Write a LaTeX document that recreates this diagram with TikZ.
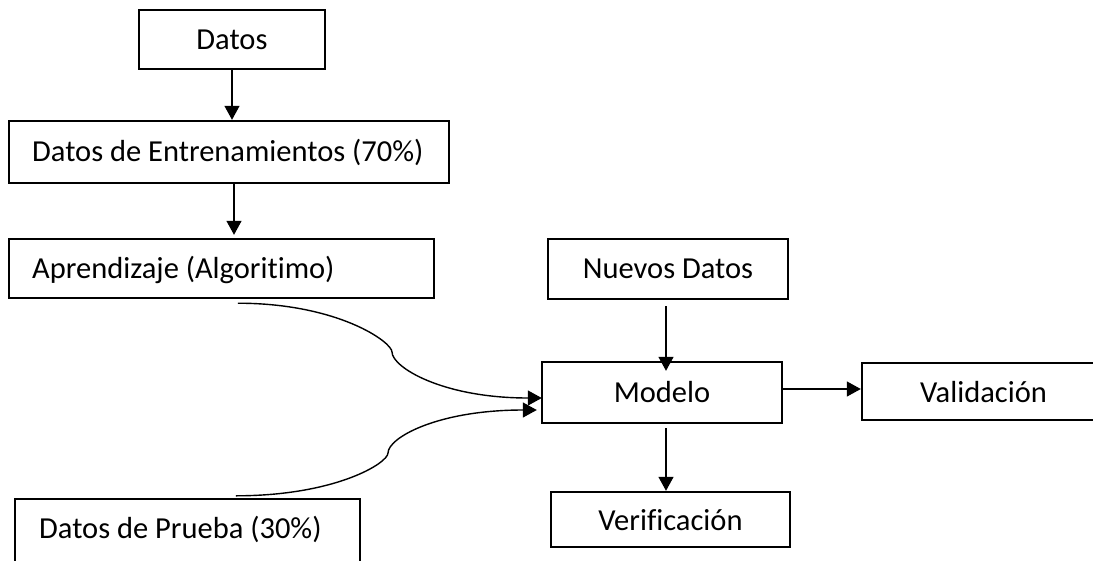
\documentclass[tikz,border=0pt]{standalone}
\usepackage{fontspec}
\setmainfont{Carlito}[Ligatures=NoCommon]
\usetikzlibrary{arrows.meta}

\begin{document}
\begin{tikzpicture}[x=1pt,y=-1pt,
  lbl/.style={inner sep=0pt, font=\fontsize{30.5}{34}\selectfont},
  box/.style={draw=black, line width=2.4pt, rectangle, inner sep=0pt,
    text height=19pt, text depth=0pt, font=\fontsize{30.5}{34}\selectfont},
  arr/.style={line width=1.4pt, -{Triangle[length=14pt,width=15pt]}}]
  \useasboundingbox (0,0) rectangle (1093,560);
  \clip (0,0) rectangle (1093,560);

  % left column
  \node[box, minimum width=186pt, minimum height=59pt] (datos) at (232,39.5) {Datos};
  \node[box, minimum width=440pt, minimum height=62pt] (entr) at (229,152) {};
  \node[lbl, anchor=base west] (entrT) at (32,161) {Datos de Entrenamientos (70\%)};
  \node[box, minimum width=425pt, minimum height=59pt] (apr) at (221.5,268.5) {};
  \node[lbl, anchor=base west] (aprT) at (32,278) {Aprendizaje (Algoritimo)};
  \node[box, minimum width=345pt, minimum height=66pt] (prueba) at (187.5,532) {};
  \node[lbl, anchor=base west] (pruebaT) at (39,538) {Datos de Prueba (30\%)};

  % right part
  \node[box, minimum width=240pt, minimum height=60pt] (nuevos) at (668,269) {Nuevos Datos};
  \node[box, minimum width=240pt, minimum height=61pt] (modelo) at (662,392.5) {Modelo};
  \node[box, minimum width=243pt, minimum height=57pt, text height=21pt] (valid) at (983.5,391.5) {Validación};
  \node[box, minimum width=239pt, minimum height=55pt, text height=21pt] (verif) at (670.5,519.5) {Verificación};

  % straight connectors
  \draw[arr] (datos.south) -- (datos.south |- entr.north);
  \draw[arr] ([xshift=5pt]entr.south) -- ([xshift=5pt,yshift=3pt]entr.south |- apr.north);
  \draw[arr] ([xshift=-2pt,yshift=-6pt]nuevos.south) -- ([xshift=4pt,yshift=-10pt]modelo.north);
  \draw[arr] ([yshift=3.5pt]modelo.east) -- ([yshift=3.5pt]modelo.east -| valid.west);
  \draw[arr] ([xshift=4pt,yshift=-4pt]modelo.south) -- ([xshift=4pt]modelo.south |- verif.north);

  % curved connectors into the model
  \coordinate (a1) at ([xshift=230pt,yshift=-4pt]apr.south west);
  \coordinate (m1) at ([xshift=1pt,yshift=-5.5pt]modelo.west);
  \draw[arr] (a1) .. controls ++(100,0) and (392,342) .. (392,352)
    .. controls (392,367) and ([xshift=-100pt]m1) .. (m1);

  \coordinate (p1) at ([xshift=222pt,yshift=2pt]prueba.north west);
  \coordinate (m2) at ([xshift=-4pt,yshift=-17.5pt]modelo.west);
  \draw[arr] (p1) .. controls ++(100,0) and (388,463) .. (388,453)
    .. controls (388,438) and ([xshift=-100pt]m2) .. (m2);
\end{tikzpicture}
\end{document}
